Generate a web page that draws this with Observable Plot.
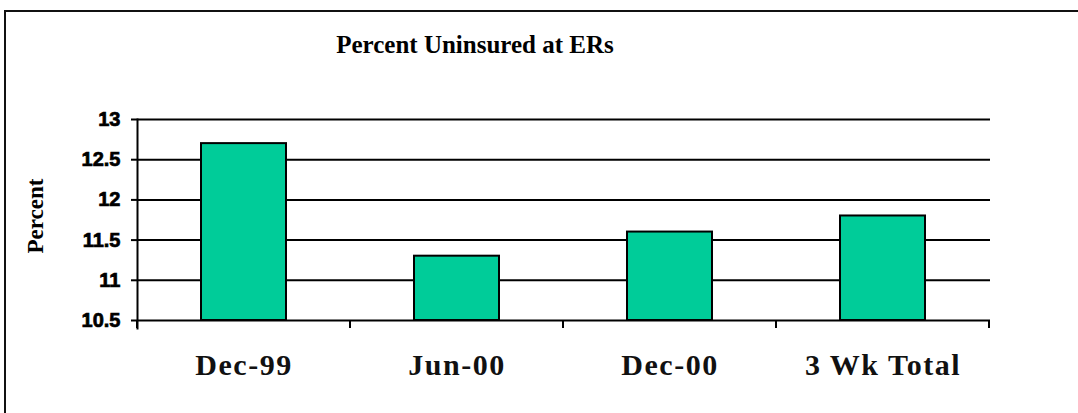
<!DOCTYPE html>
<html>
<head>
<meta charset="utf-8">
<script src="https://cdn.jsdelivr.net/npm/d3@7"></script>
<script src="https://cdn.jsdelivr.net/npm/@observablehq/plot@0.6"></script>
<style>
  html, body { margin: 0; padding: 0; background: #fff; overflow: hidden; }
  #wrap { position: relative; width: 1078px; height: 413px; overflow: hidden; }
  .bl { position: absolute; background: #111; pointer-events: none; }
  #wrap g[aria-label="x-axis tick label"] text { letter-spacing: 1.5px; }
</style>
</head>
<body>
<div id="wrap">
  <div class="bl" style="left:4px; top:10px; width:1074px; height:2px;"></div>
  <div class="bl" style="left:4px; top:10px; width:2px; height:403px;"></div>
</div>
<script>
const title = "Percent Uninsured at ERs";
const yLabel = "Percent";
const categories = ["Dec-99", "Jun-00", "Dec-00", "3 Wk Total"];
const values = [12.7, 11.3, 11.6, 11.8];
const yTicks = [10.5, 11, 11.5, 12, 12.5, 13];

const data = categories.map((c, i) => ({cat: c, value: values[i]}));

const chart = Plot.plot({
  width: 1078,
  height: 413,
  marginLeft: 137,
  marginRight: 88,
  marginTop: 119,
  marginBottom: 93,
  style: {background: "transparent", overflow: "visible"},
  x: {domain: categories, paddingInner: 0.6, paddingOuter: 0.3, align: 0.5},
  y: {domain: [10.5, 13]},
  marks: [
    Plot.ruleY(yTicks, {stroke: "#000", strokeWidth: 2}),
    Plot.barY(data, {x: "cat", y1: 10.5, y2: "value", fill: "#00CC99", stroke: "#000", strokeWidth: 2}),
    Plot.frame({anchor: "left", stroke: "#000", strokeWidth: 2, insetBottom: -8}),
    Plot.axisY({
      ticks: yTicks, tickSize: 6, tickPadding: 11, strokeWidth: 2,
      tickFormat: d => String(d), label: null,
      fontSize: 20, fontWeight: "bold", fontFamily: "Arial, 'Liberation Sans', sans-serif", fill: "#000"
    }),
    Plot.axisX({
      tickSize: 0, tickPadding: 33, label: null,
      fontSize: 30, fontWeight: "bold", fontFamily: "'Liberation Serif', 'Times New Roman', serif",
      fill: "#111"
    })
  ]
});

const svg = d3.select(chart);
const tickStrings = yTicks.map(String);
svg.selectAll("text")
  .filter(function() { return tickStrings.includes(this.textContent.trim()); })
  .attr("font-weight", "bold")
  .style("font-weight", "700")
  .style("font-family", "'Liberation Sans', Arial, sans-serif")
  .style("paint-order", "stroke")
  .style("stroke", "#000").style("stroke-width", "0.7px");
svg.selectAll("text").style("font-weight", "700");

const xs = chart.scale("x");
const ys = chart.scale("y");
const step = xs.step;
const y0 = ys.apply(10.5);
const bounds = categories.map(c => xs.apply(c) - (step - xs.bandwidth) / 2);
bounds.push(bounds[bounds.length - 1] + step);
svg.append("g").selectAll("line").data(bounds).join("line")
  .attr("x1", d => d).attr("x2", d => d)
  .attr("y1", y0).attr("y2", y0 + 8)
  .attr("stroke", "#000").attr("stroke-width", 2);

svg.append("text")
  .attr("x", 475).attr("y", 53)
  .attr("text-anchor", "middle")
  .attr("font-family", "'Liberation Serif', 'Times New Roman', serif")
  .attr("font-weight", "bold").attr("font-size", 25).attr("fill", "#000")
  .text(title);

svg.append("text")
  .attr("transform", "translate(43,216) rotate(-90)")
  .attr("text-anchor", "middle")
  .attr("font-family", "'Liberation Serif', 'Times New Roman', serif")
  .attr("font-weight", "bold").attr("font-size", 23).attr("fill", "#000")
  .text(yLabel);

chart.style.position = "absolute";
chart.style.left = "0px";
chart.style.top = "0px";
document.getElementById("wrap").prepend(chart);
</script>
</body>
</html>
